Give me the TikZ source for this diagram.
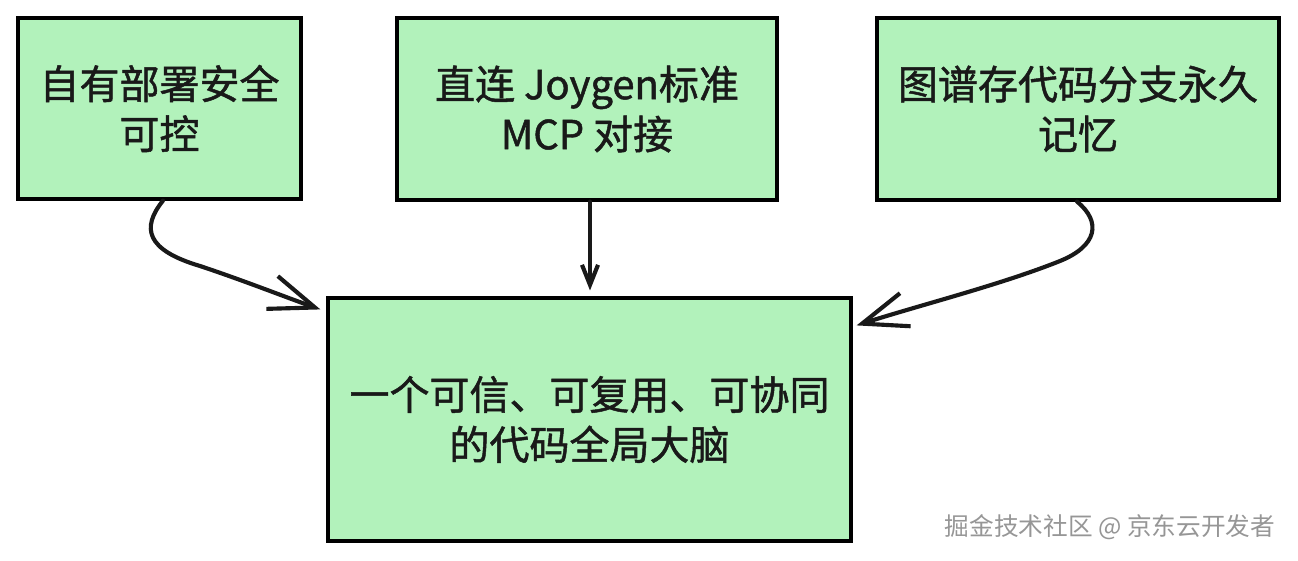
\documentclass[tikz,border=0pt]{standalone}
\usepackage{fontspec}
\setmainfont{Noto Sans CJK SC}
\newfontfamily\boxfont[BoldFont=Noto Sans CJK SC,BoldFeatures={FakeBold=1.2}]{Noto Sans CJK SC}
\usetikzlibrary{arrows.meta,calc}
\definecolor{boxgreen}{HTML}{B2F2BB}
\definecolor{wmgray}{RGB}{150,150,150}
\begin{document}
\begin{tikzpicture}[x=0.75pt,y=-0.75pt,
  box/.style={draw=black,fill=boxgreen,line width=2.4pt,inner sep=0pt,align=center,
    font=\boxfont\bfseries\fontsize{30}{37.5}\selectfont,text=black!90},
  conn/.style={line width=3.1pt,line cap=round,line join=round,draw=black!90},
  bigtip/.style={-{Straight Barb[length=34pt,width=26pt,line width=3.1pt]}},
  smalltip/.style={-{Straight Barb[length=15pt,width=12pt,line width=3.1pt]}}]
\fill[white] (0,0) rectangle (1298,560);
\useasboundingbox (0,0) rectangle (1298,560);

\node[box,minimum width=212.25pt,minimum height=135.75pt] (A) at (159.5,108.5) {自有部署安全\\可控};
\node[box,minimum width=285pt,minimum height=136.5pt] (B) at (587,109) {直连 Joygen标准\\MCP 对接};
\node[box,minimum width=301.5pt,minimum height=136.5pt] (C) at (1078,109) {图谱存代码分支永久\\记忆};
\node[box,minimum width=392.25pt,minimum height=182.25pt] (D) at (589.5,419.5) {一个可信、可复用、可协同\\的代码全局大脑};

\draw[conn,bigtip] ($(A.south)+(3.5,0)$) .. controls (141,228) and (146,250) .. (200,266)
   .. controls (245,281) and (285,297) .. ($(D.north west)+(-6,13)$);
\draw[conn,smalltip] ($(B.south)+(3,0)$) -- ($(D.north)+(0.5,-6)$);
\draw[conn,bigtip] ($(C.south)+(-1,0)$) .. controls (1102,222) and (1097,246) .. (1060,261)
   .. controls (1000,285) and (920,305) .. ($(D.north east)+(4,29)$);

\node[text=wmgray,font=\fontsize{18.5}{20}\selectfont,anchor=east] (wm) at (1280,527) {掘金技术社区 @ 京东云开发者};
\end{tikzpicture}
\end{document}
